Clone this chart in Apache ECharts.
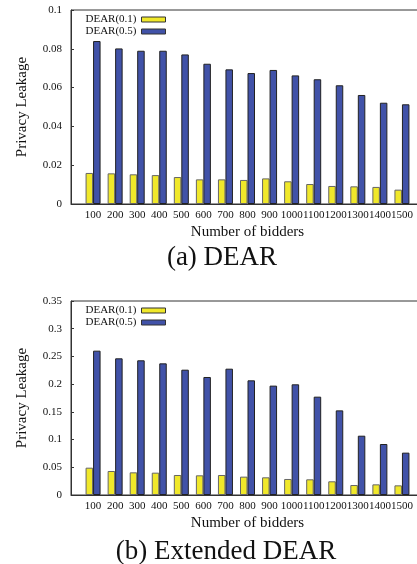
<!DOCTYPE html>
<html><head><meta charset="utf-8">
<script src="https://cdn.jsdelivr.net/npm/echarts@6/dist/echarts.min.js"></script>
<style>html,body{margin:0;padding:0;background:#fff}#c{width:417px;height:564px}</style>
</head><body><div id="c"></div>
<script>
const categories = ['100','200','300','400','500','600','700','800','900','1000','1100','1200','1300','1400','1500'];
const dearA01 = [0.0160,0.0158,0.0153,0.0149,0.0139,0.0127,0.0127,0.0124,0.0132,0.0117,0.0103,0.0093,0.0091,0.0088,0.0074];
const dearA05 = [0.0840,0.0802,0.0790,0.0790,0.0771,0.0723,0.0694,0.0675,0.0691,0.0663,0.0643,0.0612,0.0562,0.0522,0.0514];
const dearB01 = [0.0493,0.0433,0.0409,0.0403,0.0361,0.0355,0.0361,0.0331,0.0319,0.0289,0.0283,0.0247,0.0180,0.0192,0.0174];
const dearB05 = [0.2604,0.2466,0.2430,0.2375,0.2261,0.2129,0.2279,0.2069,0.1973,0.1997,0.1774,0.1527,0.1070,0.0920,0.0764];
const yTicksA = {min:0, max:0.1, interval:0.02};
const yTicksB = {min:0, max:0.35, interval:0.05};
const seriesNames = ['DEAR(0.1)','DEAR(0.5)'];
const captions = ['(a) DEAR','(b) Extended DEAR'];

const FONT = '"Liberation Serif", "Times New Roman", serif';
const YEL = '#f0e82a', BLU = '#4152a8';
const pad = arr => ['-'].concat(arr, ['-']);
const cats = [''].concat(categories, ['']);

function xAxis(gi){
  return {gridIndex:gi, type:'category', data:cats, boundaryGap:false,
    axisLine:{lineStyle:{color:'#333',width:1}}, axisTick:{show:false},
    axisLabel:{interval:0, color:'#111', fontFamily:FONT, fontSize:11, margin:6},
    name:'Number of bidders', nameLocation:'middle', nameGap:21,
    nameTextStyle:{color:'#111', fontFamily:FONT, fontSize:15}};
}
function yAxis(gi, t){
  return {gridIndex:gi, type:'value', min:t.min, max:t.max, interval:t.interval,
    axisLine:{show:true, lineStyle:{color:'#333',width:1}},
    axisTick:{show:true, inside:true, length:3, lineStyle:{color:'#333'}},
    splitLine:{show:false},
    axisLabel:{color:'#111', fontFamily:FONT, fontSize:11, margin:9},
    name:'Privacy Leakage', nameLocation:'middle', nameGap:41, nameRotate:90,
    nameTextStyle:{color:'#111', fontFamily:FONT, fontSize:15}};
}
function bar(name, data, gi, color, border){
  return {name, type:'bar', xAxisIndex:gi, yAxisIndex:gi, data:pad(data),
    barWidth:7.5, barGap:'0%', animation:false,
    itemStyle:{color, borderColor:border, borderWidth:1}};
}
function legend(gi, top){
  return {data:seriesNames.map(n=>({name:n, icon:'rect'})), orient:'vertical', right:251, top, align:'right',
    itemWidth:24, itemHeight:5, itemGap:1, padding:0, selectedMode:false,
    textStyle:{color:'#111', fontFamily:FONT, fontSize:11, padding:[0,0,0,0]},
    itemStyle:{borderColor:'#333', borderWidth:1}};
}

const chart = echarts.init(document.getElementById('c'), null, {renderer:'canvas'});
chart.setOption({
  animation:false,
  color:[YEL, BLU],
  grid:[
    {left:71, top:10, right:-7, bottom:360, show:true, borderColor:'#333', borderWidth:1, backgroundColor:'transparent', outerBoundsMode:'none', containLabel:false},
    {left:71, top:301, right:-7, bottom:69, show:true, borderColor:'#333', borderWidth:1, backgroundColor:'transparent', outerBoundsMode:'none', containLabel:false}
  ],
  legend:[legend(0,14), legend(1,305)],
  xAxis:[xAxis(0), xAxis(1)],
  yAxis:[yAxis(0,yTicksA), yAxis(1,yTicksB)],
  series:[
    bar(seriesNames[0], dearA01, 0, YEL, '#666'), bar(seriesNames[1], dearA05, 0, BLU, '#222'),
    bar(seriesNames[0], dearB01, 1, YEL, '#666'), bar(seriesNames[1], dearB05, 1, BLU, '#222')
  ],
  graphic:[
    {type:'text', x:222, y:258, style:{text:captions[0], fill:'#111', font:'27px '+FONT, textAlign:'center', textVerticalAlign:'middle'}},
    {type:'text', x:226, y:552, style:{text:captions[1], fill:'#111', font:'27px '+FONT, textAlign:'center', textVerticalAlign:'middle'}}
  ]
});
</script></body></html>
